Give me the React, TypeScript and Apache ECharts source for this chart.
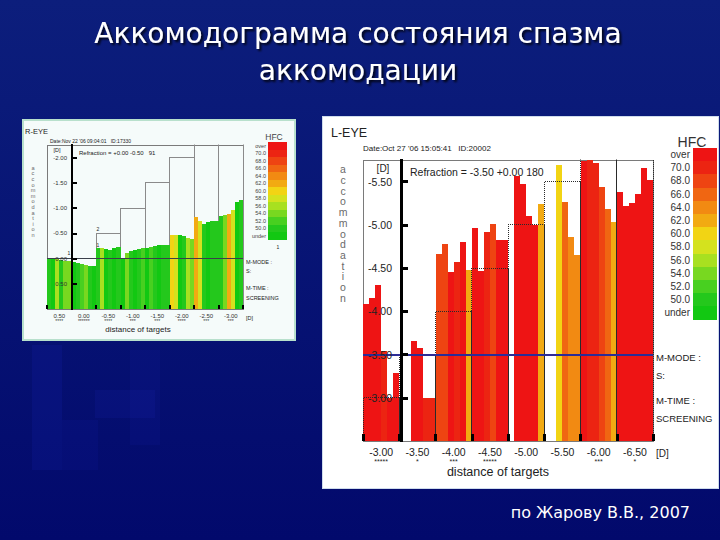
import { useEffect, useRef } from 'react';
import * as echarts from 'echarts';

// ---------- DATA ----------
const rightCategories = ['-3.00', '-3.50', '-4.00', '-4.50', '-5.00', '-5.50', '-6.00', '-6.50'];
const rightMarks = ['*****', '*', '***', '*****', '', '', '***', '*'];
const rightRefraction = -3.5;
const rightYTicks = [-5.5, -5.0, -4.5, -4.0, -3.5, -3.0];
const rightAccommodation: (number | null)[] = [
  -4.08, -4.15, -4.3, -3.54, -3.0, -3.29,
  null, null, -3.66, -3.57, -3.0, -3.0,
  -4.66, -4.78, -4.45, -4.57, -4.8, -4.48,
  -4.96, -4.47, -4.92, -5.01, -4.82, -4.83,
  null, -5.56, -5.47, -5.1, -5.0, -5.24,
  null, null, -5.69, -5.27, -4.86, -4.65,
  -5.74, -5.8, -5.72, -5.44, -5.18, -5.03,
  -5.38, -5.22, -5.25, -5.36, -5.66, -5.52,
];
const rightHfc: (number | null)[] = [
  73, 73, 73, 71, 73, 72,
  null, null, 73, 73, 71, 70,
  68, 69, 73, 70, 73, 62,
  73, 73, 71, 68, 73, 73,
  null, 73, 73, 73, 72, 62,
  null, null, 60, 66, 64, 64,
  73, 71, 70, 68, 66, 62,
  73, 73, 73, 73, 73, 73,
];

const leftCategories = ['0.50', '0.00', '-0.50', '-1.00', '-1.50', '-2.00', '-2.50', '-3.00'];
const leftMarks = ['****', '******', '****', '***', '***', '****', '***', '***'];
const leftRefraction = 0.0;
const leftYTicks = [-2.0, -1.5, -1.0, -0.5, 0.0, 0.5];
const leftAccommodation: number[] = [
  0.0, 0.0, 0.01, 0.02, 0.04, 0.05,
  0.06, 0.08, 0.11, 0.13, 0.14, 0.14,
  -0.2, -0.21, -0.19, -0.17, -0.2, -0.22,
  -0.02, -0.1, -0.14, -0.16, -0.18, -0.2,
  -0.21, -0.23, -0.24, -0.26, -0.27, -0.26,
  -0.46, -0.47, -0.46, -0.45, -0.41, -0.39,
  -0.83, -0.75, -0.68, -0.72, -0.74, -0.75,
  -0.84, -0.86, -0.89, -0.97, -1.13, -1.16,
];
const leftHfc: number[] = [
  50, 48, 56, 50, 55, 54,
  48, 50, 52, 55, 50, 48,
  50, 57, 48, 50, 48, 51,
  48, 55, 50, 48, 50, 52,
  48, 52, 50, 48, 51, 50,
  60, 58, 48, 51, 56, 55,
  62, 59, 50, 48, 51, 50,
  50, 55, 63, 58, 48, 51,
];

const hfcSteps = [50, 52, 54, 56, 58, 60, 62, 64, 66, 68, 70];
const hfcColors = [
  '#12c812', '#24c81c', '#48d020', '#78d820', '#a8e020', '#d4e21e',
  '#f2d414', '#f2aa12', '#f28a12', '#f06612', '#ee4412', '#ec2412', '#ee1414',
];

// ---------- HELPERS ----------
const FONT = '"Liberation Sans", Arial, sans-serif';
const SLOTS = 6;

const pieces = [
  { lt: hfcSteps[0], label: 'under', color: hfcColors[0] },
  ...hfcSteps.map((s, i) => ({ gte: s, lt: s + 2, label: s.toFixed(1), color: hfcColors[i + 1] })),
  { gte: hfcSteps[hfcSteps.length - 1] + 2, label: 'over', color: hfcColors[hfcColors.length - 1] },
];

const barData = (vals: (number | null)[], hfc: (number | null)[]) =>
  vals.map((v, i) => (v === null ? [i, '-', '-'] : [i, v, hfc[i]]));

const stepPoints = (cats: string[], bottom: number) => {
  const pts: number[][] = [];
  cats.forEach((c, g) => {
    const t = parseFloat(c);
    pts.push([g, bottom], [g, t], [g + 1, t], [g + 1, bottom]);
  });
  return pts;
};

const slotNames = (cats: string[]) => Array.from({ length: cats.length * SLOTS }, (_, i) => String(i));
const halfTicks = (cats: string[]) => cats.map((_, i) => i + 0.5);
const edgeTicks = (cats: string[]) => Array.from({ length: cats.length + 1 }, (_, i) => i);

const txt = (x: number, y: number, text: string, size: number, extra: any = {}) => ({
  type: 'text',
  x,
  y,
  z: 20,
  silent: true,
  style: {
    text,
    fill: extra.fill || '#222',
    fontSize: size,
    fontFamily: extra.fontFamily || FONT,
    textAlign: extra.align || 'left',
    textVerticalAlign: extra.valign || 'middle',
    lineHeight: extra.lineHeight,
    textShadowColor: extra.shadow ? 'rgba(0,0,0,0.85)' : undefined,
    textShadowOffsetX: extra.shadow ? 2 : 0,
    textShadowOffsetY: extra.shadow ? 2 : 0,
    textShadowBlur: extra.shadow ? 2 : 0,
  },
});

const vertical = (word: string) => word.split('').join('\n');

// ---------- OPTION ----------
const RB = -2.5; // right bottom
const LB = 1.0; // left bottom

const option: any = {
  animation: false,
  backgroundColor: '#06127a',
  grid: [
    { left: 363, top: 160, width: 290, height: 281, show: true, borderColor: '#7a7a7a', borderWidth: 1, backgroundColor: 'transparent' },
    { left: 47, top: 145, width: 196, height: 164, show: true, borderColor: '#7a7a7a', borderWidth: 1, backgroundColor: 'transparent' },
  ],
  xAxis: [
    { type: 'category', gridIndex: 0, data: slotNames(rightCategories), show: false, position: 'top' },
    {
      type: 'value', gridIndex: 0, min: 0, max: rightCategories.length, position: 'bottom', z: 6,
      axisLine: { show: false, onZero: false },
      axisTick: { show: true, inside: true, length: 7, customValues: edgeTicks(rightCategories), lineStyle: { color: '#000', width: 3 } },
      axisLabel: {
        customValues: halfTicks(rightCategories), margin: 5,
        formatter: (v: number) => {
          const i = Math.floor(v);
          const m = rightMarks[i];
          return m ? `{v|${rightCategories[i]}}\n{m|${m}}` : `{v|${rightCategories[i]}}`;
        },
        rich: {
          v: { fontSize: 10.5, color: '#222', fontFamily: FONT, lineHeight: 12 },
          m: { fontSize: 7, color: '#222', fontFamily: FONT, lineHeight: 6 },
        },
      },
      splitLine: { show: false },
    },
    { type: 'category', gridIndex: 1, data: slotNames(leftCategories), show: false, position: 'top' },
    {
      type: 'value', gridIndex: 1, min: 0, max: leftCategories.length, position: 'bottom', z: 6,
      axisLine: { show: false, onZero: false },
      axisTick: { show: true, inside: true, length: 4, customValues: edgeTicks(leftCategories), lineStyle: { color: '#000', width: 2 } },
      axisLabel: {
        customValues: halfTicks(leftCategories), margin: 3,
        formatter: (v: number) => {
          const i = Math.floor(v);
          return `{v|${leftCategories[i]}}\n{m|${leftMarks[i]}}`;
        },
        rich: {
          v: { fontSize: 6, color: '#333', fontFamily: FONT, lineHeight: 7 },
          m: { fontSize: 5, color: '#333', fontFamily: FONT, lineHeight: 4 },
        },
      },
      splitLine: { show: false },
    },
  ],
  yAxis: [
    {
      type: 'value', gridIndex: 0, inverse: true, min: -5.75, max: RB, startValue: RB,
      position: 'left', offset: -38, z: 6,
      axisLine: { show: true, onZero: false, lineStyle: { color: '#000', width: 3 } },
      axisTick: { show: true, inside: true, length: 7, customValues: rightYTicks, lineStyle: { color: '#000', width: 3 } },
      axisLabel: { customValues: rightYTicks, formatter: (v: number) => v.toFixed(2), fontSize: 10.5, color: '#222', fontFamily: FONT, margin: 9 },
      splitLine: { show: false },
    },
    {
      type: 'value', gridIndex: 1, inverse: true, min: -2.25, max: LB, startValue: LB,
      position: 'left', offset: -25, z: 6,
      axisLine: { show: true, onZero: false, lineStyle: { color: '#000', width: 2 } },
      axisTick: { show: true, inside: true, length: 5, customValues: leftYTicks, lineStyle: { color: '#000', width: 2 } },
      axisLabel: { customValues: leftYTicks, formatter: (v: number) => v.toFixed(2), fontSize: 6, color: '#333', fontFamily: FONT, margin: 5 },
      splitLine: { show: false },
    },
  ],
  visualMap: [
    {
      type: 'piecewise', seriesIndex: 0, dimension: 2, pieces, orient: 'vertical', align: 'right',
      right: 3, top: 148, itemWidth: 24, itemHeight: 13.2, itemGap: 0, itemSymbol: 'rect', textGap: 3, padding: 0,
      hoverLink: false, selectedMode: false,
      textStyle: { fontSize: 10, color: '#333', fontFamily: FONT },
    },
    {
      type: 'piecewise', seriesIndex: 2, dimension: 2, pieces, orient: 'vertical', align: 'right',
      right: 433, top: 142, itemWidth: 19, itemHeight: 7.5, itemGap: 0, itemSymbol: 'rect', textGap: 2, padding: 0,
      hoverLink: false, selectedMode: false,
      textStyle: { fontSize: 5.5, color: '#444', fontFamily: FONT },
    },
  ],
  series: [
    {
      type: 'bar', name: 'L-EYE', xAxisIndex: 0, yAxisIndex: 0, data: barData(rightAccommodation, rightHfc),
      encode: { x: 0, y: 1 }, barCategoryGap: '0%', barGap: '0%', clip: true, z: 2, silent: true,
      markLine: {
        silent: true, symbol: 'none', label: { show: false }, z: 5,
        lineStyle: { color: '#2c2c96', width: 2, type: 'solid' },
        data: [{ yAxis: rightRefraction }],
      },
    },
    {
      type: 'line', name: 'targets R', xAxisIndex: 1, yAxisIndex: 0, data: stepPoints(rightCategories, RB),
      symbol: 'none', clip: true, z: 4, silent: true,
      lineStyle: { color: '#2a2a2a', width: 1, type: 'dotted' },
    },
    {
      type: 'bar', name: 'R-EYE', xAxisIndex: 2, yAxisIndex: 1, data: barData(leftAccommodation, leftHfc),
      encode: { x: 0, y: 1 }, barCategoryGap: '0%', barGap: '0%', clip: true, z: 2, silent: true,
      markLine: {
        silent: true, symbol: 'none', label: { show: false }, z: 5,
        lineStyle: { color: '#3a3f4a', width: 1, type: 'solid' },
        data: [{ yAxis: leftRefraction }],
      },
    },
    {
      type: 'line', name: 'targets L', xAxisIndex: 3, yAxisIndex: 1, data: stepPoints(leftCategories, LB),
      symbol: 'none', clip: true, z: 1, silent: true,
      lineStyle: { color: '#8a8a8a', width: 1, type: 'solid' },
    },
  ],
  graphic: [
    {
      type: 'rect', z: -10, silent: true, shape: { x: 0, y: 0, width: 720, height: 540 },
      style: {
        fill: new echarts.graphic.LinearGradient(0, 0, 0, 1, [
          { offset: 0, color: '#0c1e7c' },
          { offset: 1, color: '#02096c' },
        ]),
      },
    },
    { type: 'rect', z: -9, silent: true, shape: { x: 32, y: 345, width: 30, height: 125 }, style: { fill: 'rgba(30,40,200,0.14)' } },
    { type: 'rect', z: -9, silent: true, shape: { x: 95, y: 390, width: 60, height: 28 }, style: { fill: 'rgba(30,40,200,0.12)' } },
    { type: 'rect', z: -9, silent: true, shape: { x: 130, y: 350, width: 30, height: 95 }, style: { fill: 'rgba(30,40,200,0.1)' } },
    { type: 'rect', z: -9, silent: true, shape: { x: 62, y: 420, width: 36, height: 50 }, style: { fill: 'rgba(30,40,200,0.1)' } },
    // panels
    { type: 'rect', z: -5, silent: true, shape: { x: 322, y: 116, width: 396, height: 372 }, style: { fill: '#ffffff', stroke: '#cfdcec', lineWidth: 1 } },
    { type: 'rect', z: -5, silent: true, shape: { x: 23, y: 120, width: 272, height: 220 }, style: { fill: '#f5fbfa', stroke: '#b8e0cc', lineWidth: 1.5 } },
    // titles
    txt(358, 33, 'Аккомодограмма состояния спазма', 28, { fill: '#ffffff', align: 'center', shadow: true, fontFamily: '"DejaVu Sans", sans-serif' }),
    txt(358, 70, 'аккомодации', 28, { fill: '#ffffff', align: 'center', shadow: true, fontFamily: '"DejaVu Sans", sans-serif' }),
    txt(690, 512, 'по Жарову В.В., 2007', 16, { fill: '#ffffff', align: 'right', fontFamily: '"DejaVu Sans", sans-serif' }),
    // right panel texts
    txt(331, 133, 'L-EYE', 12.5),
    txt(363, 148, "Date:Oct 27 '06 15:05:41   ID:20002", 8),
    txt(343, 164, vertical('accommodation'), 10.5, { fill: '#6a6a6a', align: 'center', valign: 'top', lineHeight: 10.7 }),
    txt(383, 168, '[D]', 10, { align: 'center' }),
    txt(410, 172, 'Refraction = -3.50 +0.00 180', 10.5),
    txt(692, 142, 'HFC', 14, { fill: '#333', align: 'center' }),
    txt(656, 357, 'M-MODE :', 9.5),
    txt(656, 375, 'S:', 9.5),
    txt(656, 400, 'M-TIME :', 9.5),
    txt(656, 418, 'SCREENING', 9.5),
    txt(656, 453, '[D]', 10),
    txt(498, 472, 'distance of targets', 12.5, { align: 'center' }),
    // left panel texts
    txt(25, 131, 'R-EYE', 7.5),
    txt(50, 141, "Date:Nov 22 '06 09:04:01   ID:17330", 5),
    txt(33, 165, vertical('accommodation'), 5.6, { fill: '#6a6a6a', align: 'center', valign: 'top', lineHeight: 5.6 }),
    txt(57, 150, '[D]', 5.5, { align: 'center' }),
    txt(79, 153, 'Refraction = +0.00 -0.50   91', 6),
    txt(274, 137, 'HFC', 8.5, { fill: '#444', align: 'center' }),
    txt(278, 247, '1', 5, { align: 'center' }),
    txt(246, 262, 'M-MODE :', 5.5),
    txt(246, 271, 'S:', 5.5),
    txt(246, 288, 'M-TIME :', 5.5),
    txt(246, 298, 'SCREENING', 5.5),
    txt(246, 318, '[D]', 5.5),
    txt(138, 329, 'distance of targets', 8, { align: 'center' }),
    txt(69, 253, '1', 5, { align: 'center' }),
    txt(98, 229, '2', 5, { align: 'center' }),
    txt(98, 245, '1', 5, { align: 'center' }),
  ],
};

export default function App() {
  const ref = useRef<HTMLDivElement>(null);
  useEffect(() => {
    const chart = echarts.init(ref.current!, null, { renderer: 'svg', width: 720, height: 540 });
    chart.setOption(option);
    return () => chart.dispose();
  }, []);
  return (
    <>
      <style>{'#hfc-slide svg path{shape-rendering:crispEdges}'}</style>
      <div
        id="hfc-slide"
        ref={ref}
        style={{ position: 'fixed', left: 0, top: 0, width: 720, height: 540, background: '#06127a' }}
      />
    </>
  );
}
